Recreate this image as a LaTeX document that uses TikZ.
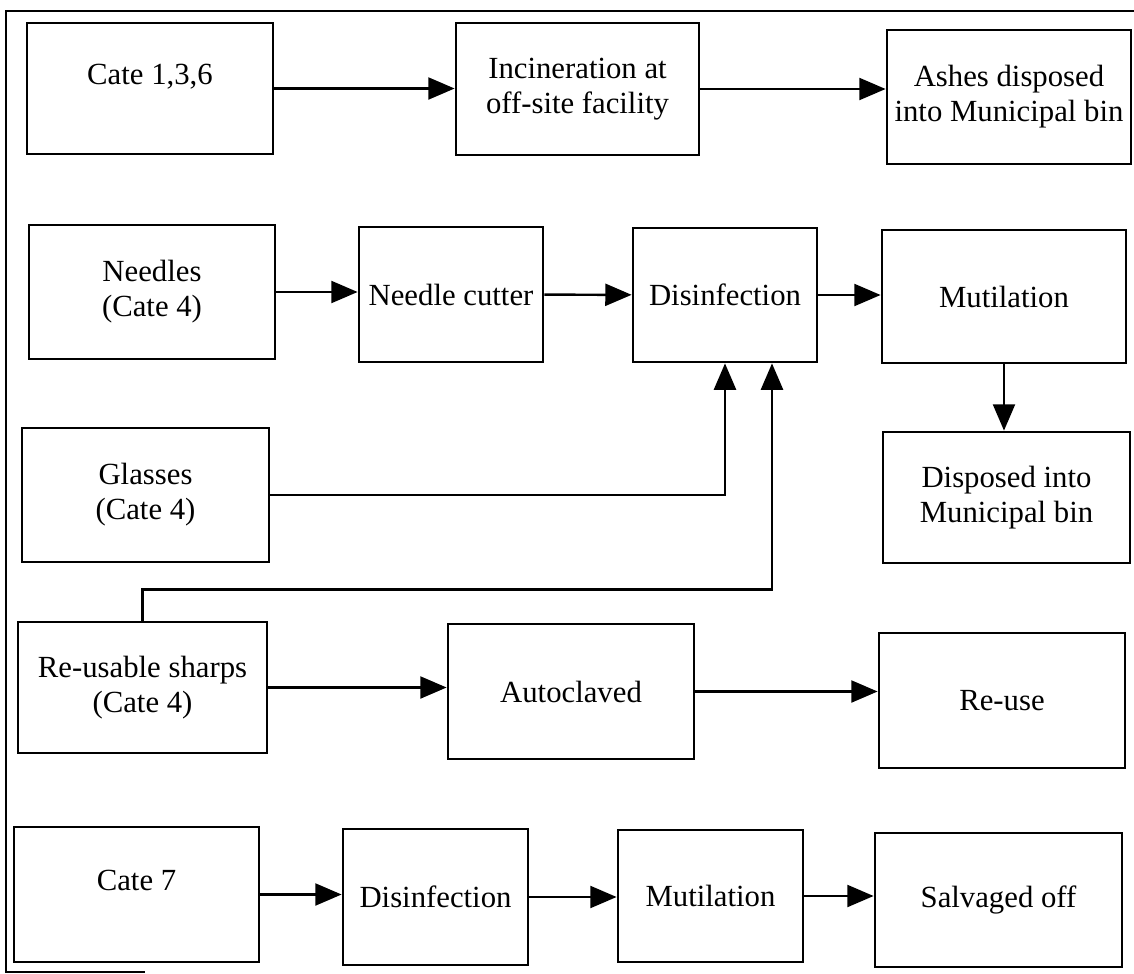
\documentclass[tikz,border=0pt]{standalone}
\usepackage{fontspec}
\setmainfont{Liberation Serif}
\usetikzlibrary{arrows.meta,positioning,calc}

\begin{document}
\begin{tikzpicture}[x=0.02cm, y=-0.02cm,
  proc/.style={draw, line width=1.6pt, inner sep=0pt, align=center,
               font=\fontsize{17.5}{20}\selectfont},
  raised/.style={text height=12pt, text depth=17pt},
  flow/.style={-{Triangle[length=15pt, width=12.5pt]}, line width=1.4pt},
  frame/.style={line width=0.7pt}
]
  \useasboundingbox (0,0) rectangle (1134,974);
  \draw[frame] (1134,11) -- (6,11) -- (6,972) -- (145,972);

  % incineration row
  \node[proc, raised, minimum width=4.92cm, minimum height=2.62cm] (c136) at (150,88.5) {Cate 1,3,6};
  \node[proc, minimum width=4.86cm, minimum height=2.64cm] (incin) at (577.5,89) {Incineration at\\off-site facility};
  \node[proc, minimum width=4.88cm, minimum height=2.68cm] (ashes) at (1009,97) {Ashes disposed\\into Municipal bin};

  % needles / glasses / sharps
  \node[proc, minimum width=4.92cm, minimum height=2.68cm] (needles) at (152,292) {Needles\\(Cate 4)};
  \node[proc, minimum width=3.68cm, minimum height=2.7cm] (cutter) at (451,294.5) {Needle cutter};
  \node[proc, minimum width=3.68cm, minimum height=2.68cm] (disinf) at (725,295) {Disinfection};
  \node[proc, minimum width=4.88cm, minimum height=2.66cm] (mutil) at (1004,296.5) {Mutilation};
  \node[proc, minimum width=4.94cm, minimum height=2.62cm] (disposed) at (1006.5,497.5) {Disposed into\\Municipal bin};
  \node[proc, minimum width=4.94cm, minimum height=2.68cm] (glasses) at (145.5,495) {Glasses\\(Cate 4)};
  \node[proc, minimum width=4.98cm, minimum height=2.62cm] (sharps) at (142.5,687.5) {Re-usable sharps\\(Cate 4)};
  \node[proc, minimum width=4.92cm, minimum height=2.7cm] (autoclave) at (571,691.5) {Autoclaved};
  \node[proc, minimum width=4.92cm, minimum height=2.7cm] (reuse) at (1002,700.5) {Re-use};

  % cate 7 row
  \node[proc, raised, minimum width=4.9cm, minimum height=2.7cm] (cate7) at (136.5,894.5) {Cate 7};
  \node[proc, minimum width=3.7cm, minimum height=2.72cm] (dis2) at (435.5,897) {Disinfection};
  \node[proc, minimum width=3.7cm, minimum height=2.64cm] (mut2) at (710.5,896) {Mutilation};
  \node[proc, minimum width=4.94cm, minimum height=2.68cm] (salv) at (998.5,900) {Salvaged off};

  \draw[flow] (c136.east) -- (c136.east -| incin.west);
  \draw[flow] (incin.east) -- (incin.east -| ashes.west);
  \draw[flow] (needles.east) -- (needles.east -| cutter.west);
  \draw[flow] (cutter) -- (disinf);
  \draw[flow] (disinf.east) -- (disinf.east -| mutil.west);
  \draw[flow] (mutil.south) -- (mutil.south |- disposed.north);
  \draw[flow] (glasses.east) -| (disinf.south);
  \draw[flow] (sharps.north) -- ++(0,-31) -| ($(disinf.south)+(47,0)$);
  \draw[flow] (sharps.east) -- (sharps.east -| autoclave.west);
  \draw[flow] (autoclave.east) -- (autoclave.east -| reuse.west);
  \draw[flow] (cate7.east) -- (cate7.east -| dis2.west);
  \draw[flow] (dis2.east) -- (dis2.east -| mut2.west);
  \draw[flow] (mut2.east) -- (mut2.east -| salv.west);
\end{tikzpicture}
\end{document}
